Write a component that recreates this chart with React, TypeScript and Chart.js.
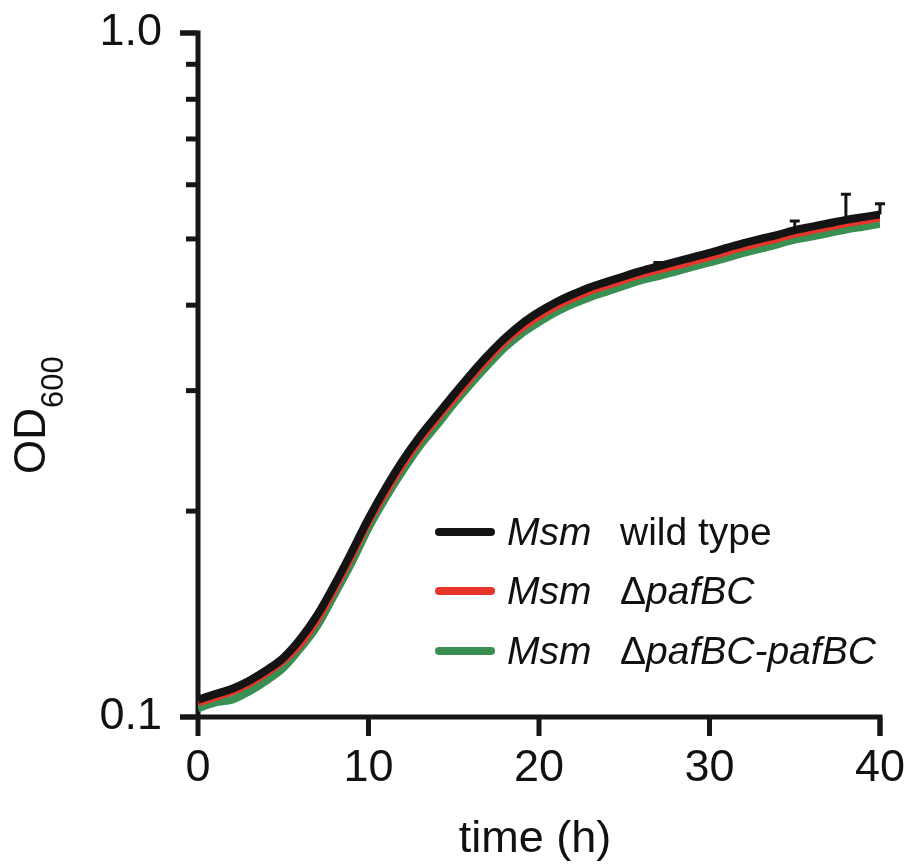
import React, { useEffect, useRef } from "react";
import { Chart, registerables } from "chart.js";

Chart.register(...registerables);

const hours = [0,1,2,3,4,5,6,7,8,9,10,11,12,13,14,15,16,17,18,19,20,21,22,23,24,25,26,27,28,29,30,31,32,33,34,35,36,37,38,39,40];
const wildType = [0.106,0.108,0.110,0.113,0.117,0.122,0.130,0.141,0.156,0.174,0.195,0.216,0.237,0.257,0.276,0.296,0.317,0.338,0.358,0.376,0.391,0.404,0.415,0.425,0.433,0.441,0.449,0.456,0.463,0.470,0.477,0.485,0.493,0.500,0.507,0.515,0.521,0.527,0.533,0.538,0.543];
const deltaPafBC = [0.105,0.107,0.109,0.112,0.116,0.121,0.128,0.139,0.154,0.172,0.193,0.213,0.234,0.254,0.273,0.292,0.313,0.334,0.354,0.371,0.386,0.399,0.410,0.420,0.428,0.436,0.444,0.451,0.457,0.464,0.471,0.479,0.487,0.494,0.501,0.509,0.515,0.521,0.527,0.532,0.537];
const complemented = [0.103,0.105,0.106,0.109,0.113,0.118,0.126,0.136,0.151,0.168,0.189,0.209,0.229,0.249,0.267,0.287,0.307,0.327,0.347,0.364,0.378,0.391,0.402,0.411,0.419,0.427,0.435,0.441,0.448,0.455,0.462,0.469,0.477,0.484,0.491,0.499,0.504,0.510,0.516,0.521,0.526];

const errHours = [27, 35, 38, 40];
const errUpper = [0.006, 0.016, 0.048, 0.020];

const xTicks = [0, 10, 20, 30, 40];
const yTicks = [0.1, 0.2, 0.3, 0.4, 0.5, 0.6, 0.7, 0.8, 0.9, 1.0];
const yTickLabels = ["0.1", "", "", "", "", "", "", "", "", "1.0"];
const yMajor = [0.1, 1.0];

const xTitle = "time (h)";
const yTitleMain = "OD";
const yTitleSub = "600";

const seriesColors = ["#141414", "#e8352b", "#3a8f52"];
const legendRows = [
  [{ t: "Msm", it: true }, { t: "wild type", it: false }],
  [{ t: "Msm", it: true }, { t: "\u0394", it: false }, { t: "pafBC", it: true }],
  [{ t: "Msm", it: true }, { t: "\u0394", it: false }, { t: "pafBC-pafBC", it: true }],
];

const FONT = '"Liberation Sans", Arial, Helvetica, sans-serif';

const decorPlugin = {
  id: "decor",
  beforeDatasetsDraw(chart: any) {
    const ctx = chart.ctx;
    const xs = chart.scales.x;
    const ys = chart.scales.y;
    const { left, top, bottom } = chart.chartArea;
    const xEnd = xs.getPixelForValue(xTicks[xTicks.length - 1]);
    ctx.save();
    ctx.strokeStyle = "#161616";
    ctx.lineWidth = 5;
    ctx.lineCap = "butt";
    ctx.lineJoin = "miter";
    ctx.beginPath();
    ctx.moveTo(left - 18, top);
    ctx.lineTo(left, top);
    ctx.lineTo(left, bottom);
    ctx.lineTo(xEnd, bottom);
    ctx.lineTo(xEnd, bottom + 19);
    ctx.stroke();
    ctx.beginPath();
    ctx.moveTo(left - 18, bottom);
    ctx.lineTo(left, bottom);
    ctx.stroke();
    yTicks.forEach((v) => {
      const py = ys.getPixelForValue(v);
      const len = yMajor.includes(v) ? 18 : 12;
      ctx.beginPath();
      ctx.moveTo(left - len, py);
      ctx.lineTo(left, py);
      ctx.stroke();
    });
    xTicks.forEach((v) => {
      const px = xs.getPixelForValue(v);
      ctx.beginPath();
      ctx.moveTo(px, bottom);
      ctx.lineTo(px, bottom + 19);
      ctx.stroke();
    });
    ctx.restore();
  },
  afterDatasetsDraw(chart: any) {
    const ctx = chart.ctx;
    const xs = chart.scales.x;
    const ys = chart.scales.y;
    ctx.save();
    ctx.strokeStyle = seriesColors[0];
    ctx.lineWidth = 3;
    errHours.forEach((t, i) => {
      const idx = hours.indexOf(t);
      const v = wildType[idx];
      const px = xs.getPixelForValue(t);
      const p0 = ys.getPixelForValue(v);
      const p1 = ys.getPixelForValue(v + errUpper[i]);
      ctx.beginPath();
      ctx.moveTo(px, p0);
      ctx.lineTo(px, p1);
      ctx.moveTo(px - 5, p1);
      ctx.lineTo(px + 5, p1);
      ctx.stroke();
    });
    ctx.restore();
  },
  afterDraw(chart: any) {
    const ctx = chart.ctx;
    const { left, right } = chart.chartArea;
    ctx.save();
    ctx.fillStyle = "#111";
    ctx.font = `45px ${FONT}`;
    ctx.textAlign = "center";
    ctx.textBaseline = "alphabetic";
    ctx.fillText(xTitle, (left + right) / 2 - 4, 852);
    ctx.translate(45, 474);
    ctx.rotate(-Math.PI / 2);
    ctx.textAlign = "left";
    ctx.font = `44px ${FONT}`;
    ctx.fillText(yTitleMain, 0, 0);
    const w = ctx.measureText(yTitleMain).width;
    ctx.font = `31px ${FONT}`;
    ctx.fillText(yTitleSub, w, 18);
    ctx.setTransform(1, 0, 0, 1, 0, 0);
    const lineY = [532, 591, 651];
    legendRows.forEach((segs, r) => {
      const y = lineY[r];
      ctx.strokeStyle = seriesColors[r];
      ctx.lineWidth = 8;
      ctx.lineCap = "round";
      ctx.beginPath();
      ctx.moveTo(439, y);
      ctx.lineTo(491, y);
      ctx.stroke();
      ctx.fillStyle = "#111";
      ctx.textBaseline = "alphabetic";
      ctx.textAlign = "left";
      let x = 507;
      segs.forEach((s, k) => {
        if (k === 1) x = 620;
        ctx.font = `${s.it ? "italic " : ""}39px ${FONT}`;
        ctx.fillText(s.t, x, y + 13);
        x += ctx.measureText(s.t).width;
      });
    });
    ctx.restore();
  },
};

export default function App() {
  const ref = useRef<HTMLCanvasElement | null>(null);
  useEffect(() => {
    if (!ref.current) return;
    const mk = (vals: number[]) => hours.map((h, i) => ({ x: h, y: vals[i] }));
    const zeroPad = (s: any) => { s.paddingLeft = 0; s.paddingRight = 0; s.paddingTop = 0; s.paddingBottom = 0; };
    const chart = new Chart(ref.current, {
      type: "line",
      data: {
        datasets: [
          { label: "Msm wild type", data: mk(wildType), borderColor: seriesColors[0], borderWidth: 8, pointRadius: 0, order: 0, cubicInterpolationMode: "monotone" },
          { label: "Msm ΔpafBC", data: mk(deltaPafBC), borderColor: seriesColors[1], borderWidth: 8, pointRadius: 0, order: 1, cubicInterpolationMode: "monotone" },
          { label: "Msm ΔpafBC-pafBC", data: mk(complemented), borderColor: seriesColors[2], borderWidth: 8, pointRadius: 0, order: 2, cubicInterpolationMode: "monotone" },
        ],
      },
      options: {
        responsive: false,
        animation: false,
        layout: { padding: { top: 33, right: 29, left: 0, bottom: 0 } },
        plugins: { legend: { display: false }, tooltip: { enabled: false } },
        scales: {
          x: {
            type: "linear",
            min: 0,
            max: 40,
            afterBuildTicks: (s: any) => { s.ticks = xTicks.map((v) => ({ value: v })); },
            ticks: { font: { size: 45, family: FONT }, color: "#111", padding: 17, maxRotation: 0, autoSkip: false },
            grid: { display: false },
            border: { display: false },
            afterFit: (s: any) => { s.height = 148; zeroPad(s); },
          },
          y: {
            type: "logarithmic",
            min: 0.1,
            max: 1.0,
            afterBuildTicks: (s: any) => { s.ticks = yTicks.map((v) => ({ value: v })); },
            ticks: {
              font: { size: 45, family: FONT },
              color: "#111",
              padding: 28,
              autoSkip: false,
              callback: (_v: any, i: number) => yTickLabels[i],
            },
            grid: { display: false },
            border: { display: false },
            afterFit: (s: any) => { s.width = 198; zeroPad(s); },
          },
        },
      },
      plugins: [decorPlugin],
    } as any);
    return () => chart.destroy();
  }, []);
  return (
    <div style={{ position: "absolute", left: 0, top: 0, width: 909, height: 865, background: "#fff" }}>
      <canvas ref={ref} width={909} height={865} />
    </div>
  );
}
